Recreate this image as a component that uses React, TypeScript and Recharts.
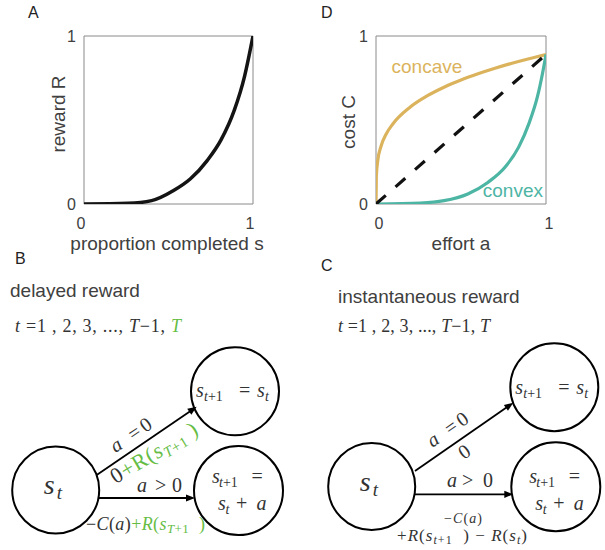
import React from 'react';
import { LineChart, Line, XAxis, YAxis, ReferenceArea, Label } from 'recharts';

// ---- Panel A: reward R vs proportion completed s ----
const rewardS = [0, 0.26, 0.4, 0.53, 0.63, 0.73, 0.81, 0.89, 0.95, 1.0];
const rewardR = [0, 0.004, 0.02, 0.08, 0.15, 0.26, 0.38, 0.56, 0.76, 1.0];

// ---- Panel D: cost C vs effort a ----
const concaveA = [0, 0.002, 0.01, 0.03, 0.06, 0.1, 0.2, 0.3, 0.4, 0.5, 0.6, 0.7, 0.8, 0.9, 1.0];
const concaveC = [0, 0.166, 0.256, 0.345, 0.417, 0.478, 0.576, 0.643, 0.695, 0.738, 0.775, 0.808, 0.838, 0.865, 0.89];
const convexA = [0, 0.26, 0.4, 0.54, 0.66, 0.76, 0.84, 0.9, 0.95, 0.98, 1.0];
const convexC = [0, 0.006, 0.02, 0.06, 0.13, 0.22, 0.34, 0.48, 0.64, 0.78, 0.89];
const linearA = [0, 1];
const linearC = [0, 0.89];

const unitTicks = [0, 1];

const rewardData = rewardS.map((x, i) => ({ x, y: rewardR[i] }));
const concaveData = concaveA.map((x, i) => ({ x, y: concaveC[i] }));
const convexData = convexA.map((x, i) => ({ x, y: convexC[i] }));
const linearData = linearA.map((x, i) => ({ x, y: linearC[i] }));

const SANS = '"Liberation Sans", Arial, Helvetica, sans-serif';
const SERIF = '"Liberation Serif", "Times New Roman", serif';
const TEXT = '#404040';
const MATH = '#333333';
const GREEN = '#66bd45';
const GOLD = '#dbb35c';
const TEAL = '#4db5a4';
const BOX = '#8a8a8a';

const tickStyle = { fill: TEXT, fontSize: 16, fontFamily: SANS };

function arrowHead(x1: number, y1: number, x2: number, y2: number, len = 9, half = 3.6) {
  const a = Math.atan2(y2 - y1, x2 - x1);
  const bx = x2 - len * Math.cos(a);
  const by = y2 - len * Math.sin(a);
  const px = -Math.sin(a) * half;
  const py = Math.cos(a) * half;
  return `${x2},${y2} ${bx + px},${by + py} ${bx - px},${by - py}`;
}

function Arrow({ x1, y1, x2, y2 }: { x1: number; y1: number; x2: number; y2: number }) {
  const a = Math.atan2(y2 - y1, x2 - x1);
  const ex = x2 - 7 * Math.cos(a);
  const ey = y2 - 7 * Math.sin(a);
  return (
    <g>
      <line x1={x1} y1={y1} x2={ex} y2={ey} stroke="#000" strokeWidth={1.8} />
      <polygon points={arrowHead(x1, y1, x2, y2)} fill="#000" />
    </g>
  );
}

function StCircle({ cx, cy }: { cx: number; cy: number }) {
  return (
    <g>
      <circle cx={cx} cy={cy} r={43.5} fill="none" stroke="#000" strokeWidth={2} />
      <text fontFamily={SERIF} fill={MATH} fontStyle="italic">
        <tspan x={cx - 12} y={cy + 4} fontSize={28}>s</tspan>
        <tspan x={cx + 1} y={cy + 9} fontSize={19}>t</tspan>
      </text>
    </g>
  );
}

function TopCircle({ cx, cy, base }: { cx: number; cy: number; base: number }) {
  return (
    <g>
      <circle cx={cx} cy={cy} r={44} fill="none" stroke="#000" strokeWidth={2} />
      <text fontFamily={SERIF} fill={MATH} fontSize={20}>
        <tspan x={cx - 39} y={base} fontStyle="italic">s</tspan>
        <tspan x={cx - 31} y={base + 4} fontSize={14}>
          <tspan fontStyle="italic">t</tspan>+1
        </tspan>
        <tspan x={cx + 4} y={base}>=</tspan>
        <tspan x={cx + 22} y={base} fontStyle="italic">s</tspan>
        <tspan x={cx + 30} y={base + 4} fontSize={14} fontStyle="italic">t</tspan>
      </text>
    </g>
  );
}

function BottomCircle({ cx, cy }: { cx: number; cy: number }) {
  return (
    <g>
      <circle cx={cx} cy={cy} r={44.5} fill="none" stroke="#000" strokeWidth={2} />
      <text fontFamily={SERIF} fill={MATH} fontSize={20}>
        <tspan x={cx - 26.5} y={483} fontStyle="italic">s</tspan>
        <tspan x={cx - 19.5} y={487} fontSize={14}>
          <tspan fontStyle="italic">t</tspan>+1
        </tspan>
        <tspan x={cx + 13} y={483}>=</tspan>
        <tspan x={cx - 20.5} y={510} fontStyle="italic">s</tspan>
        <tspan x={cx - 13} y={514} fontSize={14} fontStyle="italic">t</tspan>
        <tspan x={cx - 2.5} y={510}>+</tspan>
        <tspan x={cx + 18} y={510} fontStyle="italic">a</tspan>
      </text>
    </g>
  );
}

function TimeSeq({ x, y, len, lastColor }: { x: number; y: number; len: number; lastColor: string }) {
  return (
    <text x={x} y={y} fontFamily={SERIF} fontSize={18} fill={MATH} textLength={len} lengthAdjust="spacing" style={{ whiteSpace: 'pre' }}>
      <tspan fontStyle="italic">t</tspan>
      <tspan> =1 , 2, 3, ..., </tspan>
      <tspan fontStyle="italic">T</tspan>
      <tspan>−1, </tspan>
      <tspan fontStyle="italic" fill={lastColor}>T</tspan>
    </text>
  );
}

function Diagrams() {
  return (
    <svg width={605} height={550} style={{ position: 'absolute', left: 0, top: 0, pointerEvents: 'none' }}>
      {/* panel letters */}
      <text x={28} y={18} fontFamily={SANS} fontSize={16} fill="#222">A</text>
      <text x={321} y={18} fontFamily={SANS} fontSize={16} fill="#222">D</text>
      <text x={15} y={264} fontFamily={SANS} fontSize={16} fill="#222">B</text>
      <text x={321} y={271} fontFamily={SANS} fontSize={16} fill="#222">C</text>

      {/* ---------- B: delayed reward ---------- */}
      <text x={10} y={297} fontFamily={SANS} fontSize={19} fill={TEXT}>delayed reward</text>
      <TimeSeq x={15} y={332} len={166} lastColor={GREEN} />
      <StCircle cx={55.7} cy={490} />
      <TopCircle cx={235} cy={391.3} base={397} />
      <BottomCircle cx={238.5} cy={490.5} />
      <Arrow x1={96.7} y1={475} x2={196.7} y2={406.7} />
      <Arrow x1={99} y1={498} x2={195} y2={498} />
      <text x={131} y={435} dy="0.32em" transform="rotate(-34 131 435)" textAnchor="middle" fontFamily={SERIF} fontSize={20} fill={MATH} textLength={46} lengthAdjust="spacing" style={{ whiteSpace: 'pre' }}>
        <tspan fontStyle="italic">a</tspan>
        <tspan> =0</tspan>
      </text>
      <text x={154} y={453} dy="0.32em" transform="rotate(-31 154 453)" textAnchor="middle" fontFamily={SERIF} fontSize={22} fill={GREEN} textLength={98} lengthAdjust="spacing" style={{ whiteSpace: 'pre' }}>
        <tspan fill={MATH}>0</tspan>
        <tspan>+R(</tspan>
        <tspan fontStyle="italic">s</tspan>
        <tspan fontSize={15} dy={4}><tspan fontStyle="italic">T</tspan>+1</tspan>
        <tspan dy={-4}> )</tspan>
      </text>
      <text fontFamily={SERIF} fontSize={20} fill={MATH}>
        <tspan x={137} y={492} fontStyle="italic">a</tspan>
        <tspan x={155} y={492}>&gt;</tspan>
        <tspan x={172} y={492}>0</tspan>
      </text>
      <text x={86} y={530} fontFamily={SERIF} fontSize={18} fill={MATH} textLength={119} lengthAdjust="spacing" style={{ whiteSpace: 'pre' }}>
        <tspan>−</tspan>
        <tspan fontStyle="italic">C</tspan>
        <tspan>(</tspan>
        <tspan fontStyle="italic">a</tspan>
        <tspan>)</tspan>
        <tspan fill={GREEN}>+</tspan>
        <tspan fill={GREEN} fontStyle="italic">R</tspan>
        <tspan fill={GREEN}>(</tspan>
        <tspan fill={GREEN} fontStyle="italic">s</tspan>
        <tspan fill={GREEN} fontSize={13} dy={3}><tspan fontStyle="italic">T</tspan>+1</tspan>
        <tspan fill={GREEN} dy={-3}>  )</tspan>
      </text>

      {/* ---------- C: instantaneous reward ---------- */}
      <text x={338} y={303} fontFamily={SANS} fontSize={19} fill={TEXT}>instantaneous reward</text>
      <TimeSeq x={338} y={332} len={152} lastColor={MATH} />
      <StCircle cx={371.7} cy={486.5} />
      <TopCircle cx={554.3} cy={387.2} base={394} />
      <BottomCircle cx={555.8} cy={486.8} />
      <Arrow x1={415} y1={471} x2={513.3} y2={402.7} />
      <Arrow x1={415} y1={494.3} x2={513.3} y2={494.3} />
      <text x={447.7} y={429.6} dy="0.32em" transform="rotate(-35 447.7 429.6)" textAnchor="middle" fontFamily={SERIF} fontSize={20} fill={MATH} textLength={46} lengthAdjust="spacing" style={{ whiteSpace: 'pre' }}>
        <tspan fontStyle="italic">a</tspan>
        <tspan> =0</tspan>
      </text>
      <text x={464} y={451.5} dy="0.35em" transform="rotate(-35 464 451.5)" textAnchor="middle" fontFamily={SERIF} fontSize={20} fill={MATH}>0</text>
      <text fontFamily={SERIF} fontSize={20} fill={MATH}>
        <tspan x={447} y={487} fontStyle="italic">a</tspan>
        <tspan x={462} y={487}>&gt;</tspan>
        <tspan x={483} y={487}>0</tspan>
      </text>
      <text x={444} y={523} fontFamily={SERIF} fontSize={14} fill={MATH} textLength={38} lengthAdjust="spacing" style={{ whiteSpace: 'pre' }}>
        <tspan>−</tspan>
        <tspan fontStyle="italic">C</tspan>
        <tspan>(</tspan>
        <tspan fontStyle="italic">a</tspan>
        <tspan>)</tspan>
      </text>
      <text x={397} y={541} fontFamily={SERIF} fontSize={17} fill={MATH} textLength={130} lengthAdjust="spacing" style={{ whiteSpace: 'pre' }}>
        <tspan>+</tspan>
        <tspan fontStyle="italic">R</tspan>
        <tspan>(</tspan>
        <tspan fontStyle="italic">s</tspan>
        <tspan fontSize={12} dy={3}><tspan fontStyle="italic">t</tspan>+1</tspan>
        <tspan dy={-3}>  ) − </tspan>
        <tspan fontStyle="italic">R</tspan>
        <tspan>(</tspan>
        <tspan fontStyle="italic">s</tspan>
        <tspan fontSize={12} dy={3} fontStyle="italic">t</tspan>
        <tspan dy={-3}>)</tspan>
      </text>

      {/* Panel D curve labels */}
      <text x={391.5} y={73} fontFamily={SANS} fontSize={19} fill={GOLD}>concave</text>
      <text x={543} y={197} textAnchor="end" fontFamily={SANS} fontSize={19} fill={TEAL}>convex</text>
    </svg>
  );
}

export default function App() {
  return (
    <div style={{ position: 'absolute', left: 0, top: 0, width: 605, height: 550, background: '#fff', fontFamily: SANS }}>
      <div style={{ position: 'absolute', left: 0, top: 0 }}>
        <LineChart width={300} height={260} margin={{ top: 36, right: 47, bottom: 26, left: 54 }}>
          <XAxis type="number" dataKey="x" domain={[0, 1]} ticks={unitTicks} axisLine={false} tickLine={false} tickSize={12} height={30} tick={{ ...tickStyle, dx: -3 }} allowDataOverflow>
            <Label content={() => (
              <text x={167} y={250} textAnchor="middle" fontFamily={SANS} fontSize={19} fill={TEXT}>proportion completed s</text>
            )} />
          </XAxis>
          <YAxis type="number" domain={[0, 1]} ticks={unitTicks} axisLine={false} tickLine={false} width={30} tick={tickStyle} allowDataOverflow>
            <Label content={() => (
              <text x={58.5} y={114} transform="rotate(-90 58.5 114)" dy="0.35em" textAnchor="middle" fontFamily={SANS} fontSize={19} fill={TEXT}>reward R</text>
            )} />
          </YAxis>
          <ReferenceArea x1={0} x2={1} y1={0} y2={1} fill="none" fillOpacity={0} stroke={BOX} strokeWidth={1} />
          <Line data={rewardData} dataKey="y" type="monotone" stroke="#141414" strokeWidth={3.5} dot={false} isAnimationActive={false} />
        </LineChart>
      </div>
      <div style={{ position: 'absolute', left: 300, top: 0 }}>
        <LineChart width={305} height={260} margin={{ top: 36, right: 59, bottom: 26, left: 46 }}>
          <XAxis type="number" dataKey="x" domain={[0, 1]} ticks={unitTicks} axisLine={false} tickLine={false} tickSize={12} height={30} tick={{ ...tickStyle, dx: 3 }} allowDataOverflow>
            <Label content={() => (
              <text x={161} y={250} textAnchor="middle" fontFamily={SANS} fontSize={19} fill={TEXT}>effort a</text>
            )} />
          </XAxis>
          <YAxis type="number" domain={[0, 1]} ticks={unitTicks} axisLine={false} tickLine={false} width={30} tick={tickStyle} allowDataOverflow>
            <Label content={() => (
              <text x={48} y={122} transform="rotate(-90 48 122)" dy="0.35em" textAnchor="middle" fontFamily={SANS} fontSize={19} fill={TEXT}>cost C</text>
            )} />
          </YAxis>
          <ReferenceArea x1={0} x2={1} y1={0} y2={1} fill="none" fillOpacity={0} stroke={BOX} strokeWidth={1} />
          <Line data={concaveData} dataKey="y" type="monotone" stroke={GOLD} strokeWidth={3.2} dot={false} isAnimationActive={false} />
          <Line data={convexData} dataKey="y" type="monotone" stroke={TEAL} strokeWidth={3.2} dot={false} isAnimationActive={false} />
          <Line data={linearData} dataKey="y" type="linear" stroke="#111" strokeWidth={3.2} strokeDasharray="13 13" dot={false} isAnimationActive={false} />
        </LineChart>
      </div>
      <Diagrams />
    </div>
  );
}
